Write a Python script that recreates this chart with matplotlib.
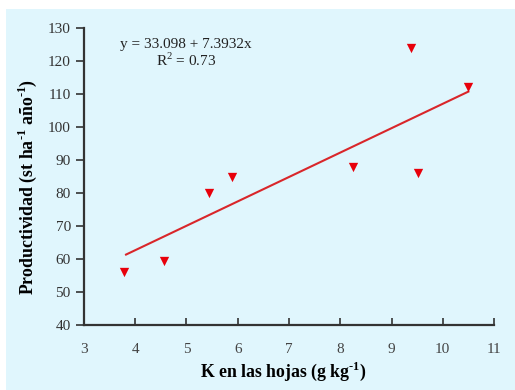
import matplotlib
matplotlib.use("Agg")
import matplotlib.pyplot as plt
import numpy as np
from matplotlib.patches import Rectangle

# potassium in leaves (g/kg) vs productivity
k_hojas = [3.78, 4.56, 5.43, 5.88, 8.25, 9.38, 9.52, 10.50]
productividad = [56, 59.5, 80, 85, 88, 124, 86, 112]
intercepto, pendiente = 33.098, 7.3932
x_ticks = [3, 4, 5, 6, 7, 8, 9, 10, 11]
y_ticks = [40, 50, 60, 70, 80, 90, 100, 110, 120, 130]

plt.rcParams["font.family"] = ["Liberation Serif", "DejaVu Serif"]
plt.rcParams["mathtext.fontset"] = "custom"
plt.rcParams["mathtext.rm"] = "Liberation Serif"
plt.rcParams["mathtext.bf"] = "Liberation Serif:bold"

bg = "#e0f6fd"
fig = plt.figure(figsize=(5.15, 3.9), dpi=100)
fig.patch.set_facecolor("white")
fig.patches.append(Rectangle((6 / 515, 0), 1, 1 - 9 / 390, transform=fig.transFigure,
                             facecolor=bg, edgecolor="none", zorder=-10))
ax = fig.add_axes([84 / 515, 1 - 325 / 390, 410 / 515, 297 / 390])
ax.set_facecolor(bg)

ax.scatter(k_hojas, productividad, marker="v", s=45, color="#e8000b", zorder=3, linewidths=0)
xl = np.array([min(k_hojas) + 0.04, max(k_hojas)])
ax.plot(xl, intercepto + pendiente * xl, color="#d9262a", lw=1.5, zorder=2)

ax.set_xlim(3, 11)
ax.set_ylim(40, 130)
ax.set_xticks(x_ticks)
ax.set_yticks(y_ticks)
for s in ["top", "right"]:
    ax.spines[s].set_visible(False)
for s in ["left", "bottom"]:
    ax.spines[s].set_color("#333333")
    ax.spines[s].set_linewidth(1.6)
ax.tick_params(axis="y", direction="out", length=6, width=1.2, color="#333333",
               labelsize=11, labelcolor="#333333")
ax.tick_params(axis="x", direction="in", length=5, width=1.2, color="#333333",
               labelsize=11, labelcolor="#444444", pad=13)

sup = r"$^{\mathbf{\text{-}1}}$"
ax.set_xlabel("K en las hojas (g kg" + sup + ")", fontsize=12.8, fontweight="bold")
ax.set_ylabel("Productividad (st ha" + sup + " año" + sup + ")", fontsize=12.8, fontweight="bold")
ax.xaxis.set_label_coords(0.485, -0.116)
ax.yaxis.set_label_coords(-0.11, 0.465)

ax.text(0.249, 0.946, f"y = {intercepto} + {pendiente}x", transform=ax.transAxes,
        ha="center", va="center", fontsize=11, color="#222222")
ax.text(0.249, 0.892, r"R$^2$ = 0.73", transform=ax.transAxes,
        ha="center", va="center", fontsize=11, color="#222222")

fig.savefig("out.png", dpi=100, facecolor=fig.get_facecolor())
